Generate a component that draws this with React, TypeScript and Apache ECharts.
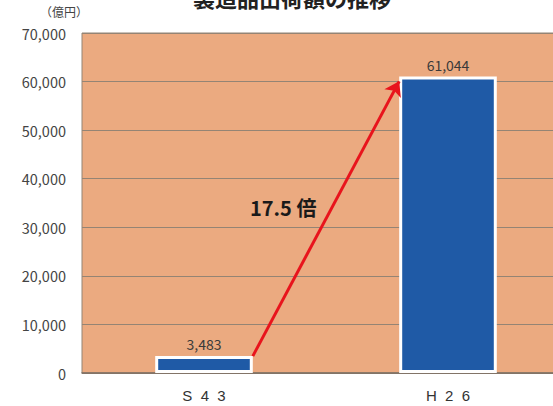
import React, { useEffect, useRef } from "react";
import * as echarts from "echarts";

const title = "製造品出荷額の推移";
const unitLabel = "（億円）";
const categories = ["S 4 3", "H 2 6"];
const values = [3483, 61044];
const ratioLabel = "17.5 倍";
const yMin = 0;
const yMax = 70000;
const yInterval = 10000;

export default function App() {
  const ref = useRef<HTMLDivElement>(null);
  useEffect(() => {
    document.body.style.margin = "0";
    const chart = echarts.init(ref.current!, null, { renderer: "svg" });
    const font = "'Noto Sans CJK JP', 'Noto Sans', sans-serif";
    const latin = "'Liberation Sans', Arial, sans-serif";
    chart.setOption({
      animation: false,
      backgroundColor: "#ffffff",
      textStyle: { fontFamily: font },
      grid: {
        left: 82,
        top: 33,
        width: 488,
        height: 340,
        outerBoundsMode: "none",
        containLabel: false,
        show: true,
        backgroundColor: "#EBAA80",
        borderColor: "#948474",
        borderWidth: 1,
      },
      xAxis: [
        {
          type: "category",
          data: categories,
          axisTick: { show: false },
          axisLine: { lineStyle: { color: "#7d6f63", width: 1.5 } },
          axisLabel: {
            color: "#333",
            fontSize: 15,
            margin: 15,
            fontFamily: latin,
            formatter: (v: string) => v.split(" ").join("  "),
          },
        },
        { type: "value", min: 0, max: 2, show: false },
      ],
      yAxis: {
        type: "value",
        min: yMin,
        max: yMax,
        interval: yInterval,
        axisLine: { show: false },
        axisTick: { show: false },
        splitLine: { lineStyle: { color: "#948474", width: 1 } },
        axisLabel: {
          color: "#444",
          fontSize: 14.5,
          margin: 16,
          fontFamily: font,
          formatter: (v: number) => v.toLocaleString("en-US"),
        },
      },
      series: [
        {
          type: "bar",
          data: values,
          barWidth: "40%",
          itemStyle: { color: "#1F5AA6", borderColor: "#ffffff", borderWidth: 3 },
          label: {
            show: true,
            position: "top",
            distance: 5,
            color: "#3a3a3a",
            fontSize: 14,
            fontFamily: font,
            formatter: (p: any) => Number(p.value).toLocaleString("en-US"),
          },
        },
        {
          type: "line",
          xAxisIndex: 1,
          data: [],
          markLine: {
            silent: true,
            symbol: ["none", "arrow"],
            symbolSize: 14,
            label: { show: false },
            lineStyle: { color: "#E8141C", width: 3, type: "solid" },
            data: [
              [
                { coord: [0.7, values[0]] },
                { coord: [1.3, values[1] - 1000] },
              ],
            ],
          },
        },
      ],
      graphic: [
        {
          type: "text",
          left: 193,
          top: -14,
          style: { text: title, fontSize: 22, fontWeight: "bold", fill: "#222", fontFamily: font },
        },
        {
          type: "text",
          left: 40,
          top: 5,
          style: { text: unitLabel, fontSize: 12, fill: "#444", fontFamily: font },
        },
        {
          type: "text",
          left: 250,
          top: 197,
          style: { text: ratioLabel, fontSize: 20, fontWeight: "bold", fill: "#1a1a1a", fontFamily: font },
        },
      ],
    });
    return () => chart.dispose();
  }, []);
  return <div ref={ref} style={{ width: 553, height: 406 }} />;
}
